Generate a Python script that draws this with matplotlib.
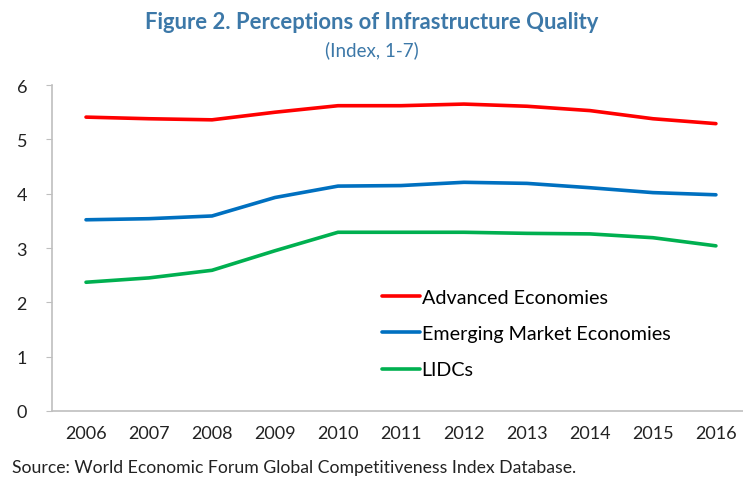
import matplotlib
matplotlib.use("Agg")
import matplotlib.pyplot as plt

years = [2006, 2007, 2008, 2009, 2010, 2011, 2012, 2013, 2014, 2015, 2016]
advanced = [5.41, 5.38, 5.36, 5.50, 5.62, 5.62, 5.65, 5.61, 5.53, 5.38, 5.29]
emerging = [3.52, 3.54, 3.59, 3.93, 4.14, 4.15, 4.21, 4.19, 4.11, 4.02, 3.98]
lidcs = [2.37, 2.45, 2.59, 2.95, 3.29, 3.29, 3.29, 3.27, 3.26, 3.19, 3.04]
series_names = ["Advanced Economies", "Emerging Market Economies", "LIDCs"]
y_ticks = [0, 1, 2, 3, 4, 5, 6]

plt.rcParams["font.family"] = ["Lato", "DejaVu Sans"]

fig = plt.figure(figsize=(7.43, 4.89), dpi=100)
ax = fig.add_axes([0.07, 0.1575, 0.93, 0.6665])

colors = ["#FF0000", "#0070C0", "#00B050"]
for vals, name, c in zip((advanced, emerging, lidcs), series_names, colors):
    ax.plot(years, vals, color=c, lw=2.6, label=name, solid_capstyle="round")

ax.set_xlim(2005.46, 2016.43)
ax.set_ylim(0, 6)
ax.set_yticks(y_ticks)
ax.set_xticks(years)
ax.tick_params(axis="x", length=0, pad=10, labelsize=13, colors="#222222")
ax.tick_params(axis="y", length=4, color="#BFBFBF", pad=14, labelsize=13,
               labelcolor="#222222")

for side in ("top", "right"):
    ax.spines[side].set_visible(False)
for side in ("left", "bottom"):
    ax.spines[side].set_color("#BFBFBF")
    ax.spines[side].set_linewidth(1.2)

ax.legend(loc="upper left", bbox_to_anchor=(0.478, 0.375), frameon=False,
          fontsize=14.2, handlelength=1.9, handletextpad=0.1, labelspacing=0.98,
          borderaxespad=0, borderpad=0)

fig.text(0.5, 0.955, "Figure 2. Perceptions of Infrastructure Quality",
         ha="center", va="center", fontsize=15.8, fontweight="bold", color="#3C78A8")
fig.text(0.5, 0.897, "(Index, 1-7)", ha="center", va="center",
         fontsize=13.5, color="#3C78A8")
fig.text(0.016, 0.043, "Source: World Economic Forum Global Competitiveness Index Database.",
         ha="left", va="center", fontsize=12.7, color="#222222")

fig.savefig("out.png", dpi=100)
